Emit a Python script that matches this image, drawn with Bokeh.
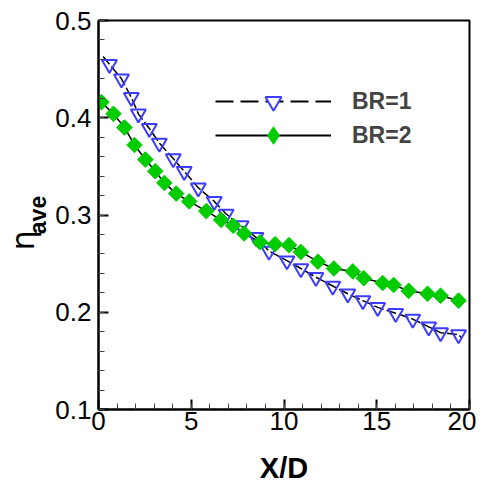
import numpy as np
from bokeh.plotting import figure
from bokeh.models import Legend, LegendItem, FixedTicker, Range1d, LinearAxis
from bokeh.embed import file_html
from bokeh.resources import INLINE

# ---- data ----
x_br1 = [0.59, 1.24, 1.77, 2.15, 2.74, 3.28, 4.03, 4.62, 5.38, 6.24, 6.88, 7.69,
         8.49, 9.19, 10.16, 10.91, 11.72, 12.63, 13.44, 14.25, 15.05, 16.02,
         16.94, 17.80, 18.44, 19.41]
eta_br1 = [0.455, 0.440, 0.421, 0.404, 0.389, 0.374, 0.358, 0.345, 0.328, 0.314,
           0.301, 0.289, 0.277, 0.263, 0.253, 0.245, 0.236, 0.227, 0.219, 0.212,
           0.205, 0.199, 0.193, 0.185, 0.179, 0.177]

x_br2 = [0.16, 0.81, 1.40, 1.94, 2.53, 3.06, 3.55, 4.19, 4.89, 5.81, 6.61, 7.26,
         7.85, 8.71, 9.52, 10.27, 10.91, 11.83, 12.69, 13.71, 14.30, 15.32,
         15.91, 16.72, 17.74, 18.44, 19.41]
eta_br2 = [0.416, 0.404, 0.390, 0.372, 0.357, 0.345, 0.333, 0.322, 0.314, 0.304,
           0.295, 0.289, 0.281, 0.272, 0.270, 0.269, 0.262, 0.252, 0.245, 0.242,
           0.235, 0.230, 0.228, 0.222, 0.219, 0.217, 0.212]

# curves (start/end extend slightly beyond the symbols)
line_x_br1 = [0.25] + x_br1 + [19.60]
line_eta_br1 = [0.463] + eta_br1 + [0.173]
line_x_br2 = [0.0] + x_br2 + [19.60]
line_eta_br2 = [0.418] + eta_br2 + [0.211]

x_ticks = [0, 5, 10, 15, 20]
y_ticks = [0.1, 0.2, 0.3, 0.4, 0.5]
y_tick_labels = {0.1: "0.1", 0.2: "0.2", 0.3: "0.3", 0.4: "0.4", 0.5: "0.5"}
series_labels = ["BR=1", "BR=2"]

FONT = "Liberation Sans"
BLUE = "#3c3cff"
GREEN = "#00cc00"

p = figure(width=476, height=487, x_range=Range1d(0, 20), y_range=Range1d(0.1, 0.5),
           output_backend="svg", toolbar_location=None,
           min_border_left=97, min_border_right=7, min_border_top=20, min_border_bottom=78)
p.background_fill_color = "white"
p.border_fill_color = "white"
p.xgrid.visible = False
p.ygrid.visible = False
p.outline_line_color = "black"
p.outline_line_width = 2

x_minor = [float(v) for v in np.arange(0, 20.5, 1.0)]
y_minor = [round(float(v), 2) for v in np.arange(0.1, 0.501, 0.02)]
p.xaxis.ticker = FixedTicker(ticks=x_ticks, minor_ticks=x_minor)
p.yaxis.ticker = FixedTicker(ticks=y_ticks, minor_ticks=y_minor)
p.yaxis.major_label_overrides = y_tick_labels

for ax in (p.xaxis, p.yaxis):
    ax.axis_line_width = 2
    ax.axis_line_color = "black"
    ax.major_tick_in = 10
    ax.major_tick_out = 0
    ax.minor_tick_in = 6
    ax.minor_tick_out = 0
    ax.major_tick_line_width = 2
    ax.major_tick_line_color = "black"
    ax.minor_tick_line_width = 1
    ax.minor_tick_line_color = "#444444"
    ax.major_label_text_font = FONT
    ax.major_label_text_font_size = "26px"
    ax.major_label_text_color = "black"
p.xaxis.major_label_standoff = 2
p.yaxis.major_label_standoff = 7

# axis titles
p.xaxis.axis_label = "X/D"
p.xaxis.axis_label_text_font = FONT
p.xaxis.axis_label_text_font_size = "29px"
p.xaxis.axis_label_text_font_style = "bold"
p.xaxis.axis_label_text_color = "black"
p.xaxis.axis_label_standoff = 19

p.yaxis.axis_label = "ave"
p.yaxis.axis_label_text_font = FONT
p.yaxis.axis_label_text_font_size = "23px"
p.yaxis.axis_label_text_font_style = "bold"
p.yaxis.axis_label_text_color = "black"
p.yaxis.axis_label_standoff = 1

# eta symbol: trailing no-break spaces push the glyph below the centre of the axis
eta_axis = LinearAxis(ticker=FixedTicker(ticks=[]), axis_line_color=None,
                      major_tick_line_color=None, minor_tick_line_color=None,
                      major_tick_in=0, major_tick_out=0, minor_tick_in=0, minor_tick_out=0,
                      major_label_text_font_size="0px",
                      axis_label="η" + "\u00a0" * 5, axis_label_standoff=-19,
                      axis_label_text_font="DejaVu Sans", axis_label_text_font_size="32px",
                      axis_label_text_font_style="normal", axis_label_text_color="black")
p.add_layout(eta_axis, "left")

# ---- curves and symbols ----
p.line(line_x_br1, line_eta_br1, line_color="black", line_width=1.5, line_dash="10 3")
p.line(line_x_br2, line_eta_br2, line_color="black", line_width=1.5)
p.scatter(x_br1, eta_br1, marker="inverted_triangle", size=15, fill_color=None,
          line_color=BLUE, line_width=2)
p.scatter(x_br2, eta_br2, marker="square", angle=np.pi / 4, size=11,
          fill_color=GREEN, line_color=GREEN)

# ---- legend (hidden one-point renderers carry the legend styles) ----
nan1 = [float("nan")]
l1_line = p.line(nan1, nan1, line_color="black", line_width=2, line_dash="18 7")
l1_mark = p.scatter(nan1, nan1, marker="inverted_triangle", fill_color="white",
                    line_color=BLUE, line_width=2)
l2_line = p.line(nan1, nan1, line_color="black", line_width=2)
l2_mark = p.scatter(nan1, nan1, marker="diamond", fill_color=GREEN, line_color=GREEN)

common = dict(glyph_width=116, label_standoff=21, label_text_font=FONT,
              label_text_font_style="bold", label_text_font_size="23px",
              padding=0, margin=0, spacing=0, border_line_color=None,
              background_fill_alpha=0)
legend1 = Legend(items=[LegendItem(label=series_labels[0], renderers=[l1_line, l1_mark])],
                 location=(117, 288), glyph_height=40, **common)
legend2 = Legend(items=[LegendItem(label=series_labels[1], renderers=[l2_line, l2_mark])],
                 location=(117, 252), glyph_height=44, **common)
p.add_layout(legend1)
p.add_layout(legend2)

open("out.html", "w").write(file_html(p, INLINE))
